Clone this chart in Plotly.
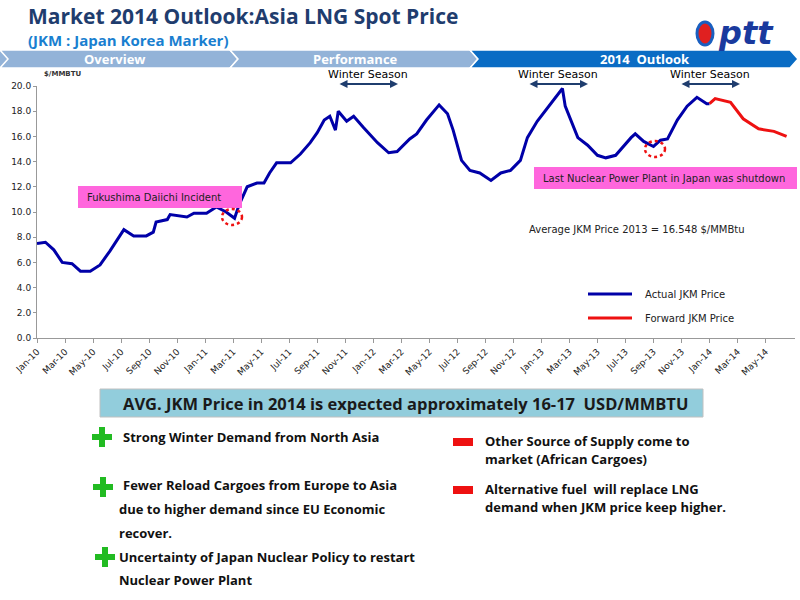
import plotly.graph_objects as go

# month index: 0 = Jan-10
actual_month = [0,0.6,1.2,1.8,2.5,3.1,3.8,4.5,5.2,5.8,6.2,6.9,7.8,8.3,8.5,9.3,9.5,10.7,11.2,12.1,12.8,13.5,14.1,14.4,15.0,15.7,16.2,16.6,17.1,18.1,18.8,19.5,20.0,20.5,20.9,21.3,21.5,22.1,22.6,23.3,23.8,24.3,25.1,25.7,26.6,27.1,27.8,28.3,28.7,29.3,29.7,30.3,30.9,31.6,32.4,33.1,33.8,34.5,35.0,35.7,36.4,37.1,37.5,37.7,38.6,39.3,40.0,40.6,41.3,42.4,42.7,43.3,44.0,44.5,45.0,45.7,46.4,47.1,47.8,48.0]
actual_price = [7.5,7.6,7.0,6.0,5.9,5.3,5.3,5.8,6.9,7.9,8.6,8.1,8.1,8.4,9.2,9.4,9.8,9.6,9.9,9.9,10.4,10.0,9.5,10.5,12.0,12.3,12.3,13.1,13.9,13.9,14.6,15.5,16.3,17.3,17.6,16.5,18.0,17.2,17.6,16.7,16.1,15.5,14.7,14.8,15.8,16.2,17.3,18.0,18.5,17.8,16.5,14.1,13.3,13.1,12.5,13.1,13.3,14.1,15.9,17.2,18.2,19.2,19.8,18.4,15.9,15.3,14.5,14.3,14.5,15.9,16.2,15.6,15.2,15.7,15.8,17.3,18.4,19.1,18.6,18.6]
fwd_month = [48.0,48.4,49.5,50.4,51.5,52.6,53.5]
fwd_price = [18.6,19.0,18.7,17.4,16.6,16.4,16.0]
months = ["Jan","Mar","May","Jul","Sep","Nov"]
tick_vals = list(range(0,53,2))
tick_text = [f"{months[(v%12)//2]}-{10+v//12}" for v in tick_vals]

L, R, T, B = 37, 795, 86, 338
def px(x): return (x-L)/(R-L)
def py(y): return (B-y)/(B-T)

fig = go.Figure()
fig.add_trace(go.Scatter(x=actual_month, y=actual_price, mode="lines", line=dict(color="#0000a8", width=3), showlegend=False))
fig.add_trace(go.Scatter(x=fwd_month, y=fwd_price, mode="lines", line=dict(color="#ee1111", width=3), showlegend=False))

shapes = []
ann = []
def P(**k):
    k.setdefault("xref","paper"); k.setdefault("yref","paper"); return k
def text(x,y,t,size=11,color="#000",bold=False,anchor="left",fam="Verdana, DejaVu Sans"):
    ann.append(P(x=px(x),y=py(y),text=(f"<b>{t}</b>" if bold else t),showarrow=False,xanchor=anchor,yanchor="middle",
                 font=dict(size=size,color=color,family=fam)))

# title
text(26,16,"Market 2014 Outlook:Asia LNG Spot Price",21,"#1f3d6e",True,fam="Open Sans")
text(26,40,"(JKM : Japan Korea Marker)",15,"#1a7fd0",True,fam="Open Sans")
# logo approx
shapes.append(P(type="circle",x0=px(697),x1=px(713),y0=py(45),y1=py(22),fillcolor="#e02020",line=dict(color="#1a5fc0",width=3)))
text(716,33,"<i>ptt</i>",32,"#1a3a9e",True,fam="DejaVu Sans")
# chevrons
def chev(x0,x1,col):
    shapes.append(P(type="path",path=f"M {px(x0)},{py(50)} L {px(x1)},{py(50)} L {px(x1+8)},{py(59)} L {px(x1)},{py(68)} L {px(x0)},{py(68)} L {px(x0+8)},{py(59)} Z",
                    fillcolor=col,line=dict(color="white",width=1.5)))
shapes.append(P(type="rect",x0=px(0),x1=px(10),y0=py(50),y1=py(68),fillcolor="#93b3d8",line_width=0))
chev(0,230,"#93b3d8"); chev(230,470,"#93b3d8"); chev(470,790,"#0a6cc4")
text(115,59,"Overview",13,"white",True,"center","Open Sans")
text(355,59,"Performance",13,"white",True,"center","Open Sans")
text(645,59,"2014  Outlook",13,"white",True,"center","Open Sans")
text(42,74,"$/MMBTU",7,"#333",True)
# winter seasons
for a,b in [(338,398),(528,588),(680,740)]:
    text((a+b)/2,75,"Winter Season",11,"#000",False,"center","DejaVu Sans")
    ann.append(P(x=px(b),y=py(84),ax=a-b,ay=0,axref="pixel",ayref="pixel",text="",showarrow=True,arrowhead=2,startarrowhead=2,arrowside="end+start",arrowwidth=2,arrowcolor="#1f3d6e",arrowsize=0.8,startarrowsize=0.8))
# pink boxes
shapes.append(P(type="rect",x0=px(78),x1=px(242),y0=py(208),y1=py(186),fillcolor="#ff66dd",line_width=0))
text(85,197,"Fukushima Daiichi Incident",10,"#222")
shapes.append(P(type="rect",x0=px(534),x1=px(797),y0=py(189),y1=py(167),fillcolor="#ff66dd",line_width=0))
text(541,178,"Last Nuclear Power Plant in Japan was shutdown",10,"#222")
for cx,cy in [(232,217),(655,149)]:
    shapes.append(P(type="circle",x0=px(cx-10),x1=px(cx+10),y0=py(cy+8),y1=py(cy-8),line=dict(color="#ee1111",width=2.5,dash="dot")))
text(527,229,"Average JKM Price 2013 = 16.548 $/MMBtu",10,"#222")
# legend
shapes.append(P(type="line",x0=px(588),x1=px(632),y0=py(294),y1=py(294),line=dict(color="#0000a8",width=3)))
shapes.append(P(type="line",x0=px(588),x1=px(632),y0=py(318),y1=py(318),line=dict(color="#ee1111",width=3)))
text(643,294,"Actual JKM Price",10,"#222")
text(643,318,"Forward JKM Price",10,"#222")
# bottom box
shapes.append(P(type="rect",x0=px(100),x1=px(703),y0=py(417),y1=py(389),fillcolor="#92cddc",line=dict(color="#c0c0c0",width=1)))
text(405,403,"AVG. JKM Price in 2014 is expected approximately 16-17  USD/MMBTU",16.5,"#1a1a1a",True,"center","Open Sans")
def plus(x,y):
    shapes.append(P(type="rect",x0=px(x-3),x1=px(x+3),y0=py(y+10),y1=py(y-10),fillcolor="#22bb22",line_width=0))
    shapes.append(P(type="rect",x0=px(x-10),x1=px(x+10),y0=py(y+3),y1=py(y-3),fillcolor="#22bb22",line_width=0))
plus(102,437); plus(103,487); plus(105,557)
def minus(x,y):
    shapes.append(P(type="rect",x0=px(x-10),x1=px(x+10),y0=py(y+4),y1=py(y-4),fillcolor="#ee1111",line_width=0))
minus(463,442); minus(463,490)
for x,y,t in [(121,437,"Strong Winter Demand from North Asia"),(121,485,"Fewer Reload Cargoes from Europe to Asia"),
              (117,509,"due to higher demand since EU Economic"),(117,533,"recover."),
              (117,557,"Uncertainty of Japan Nuclear Policy to restart"),(117,580,"Nuclear Power Plant"),
              (483,441,"Other Source of Supply come to"),(483,459,"market (African Cargoes)"),
              (483,489,"Alternative fuel  will replace LNG"),(483,507,"demand when JKM price keep higher.")]:
    text(x,y,t,13,"#111",True,fam="Open Sans")

fig.update_layout(width=800,height=600,margin=dict(l=L,r=800-R,t=T,b=600-B),paper_bgcolor="white",plot_bgcolor="white",
    shapes=shapes,annotations=ann,
    xaxis=dict(range=[0,54.1],tickvals=tick_vals,ticktext=tick_text,tickangle=-45,showgrid=False,showline=True,linecolor="#999",
               ticks="outside",ticklen=4,tickcolor="#999",tickfont=dict(size=9,family="Verdana, DejaVu Sans",color="#222")),
    yaxis=dict(range=[0,20],dtick=2,tickformat=".1f",showgrid=False,showline=True,linecolor="#999",ticks="outside",ticklen=3,tickcolor="#999",
               tickfont=dict(size=9,family="Verdana, DejaVu Sans",color="#222"),zeroline=False))
fig.write_html("out.html", post_script="document.body.style.margin='0px';", config={"displayModeBar": False})
